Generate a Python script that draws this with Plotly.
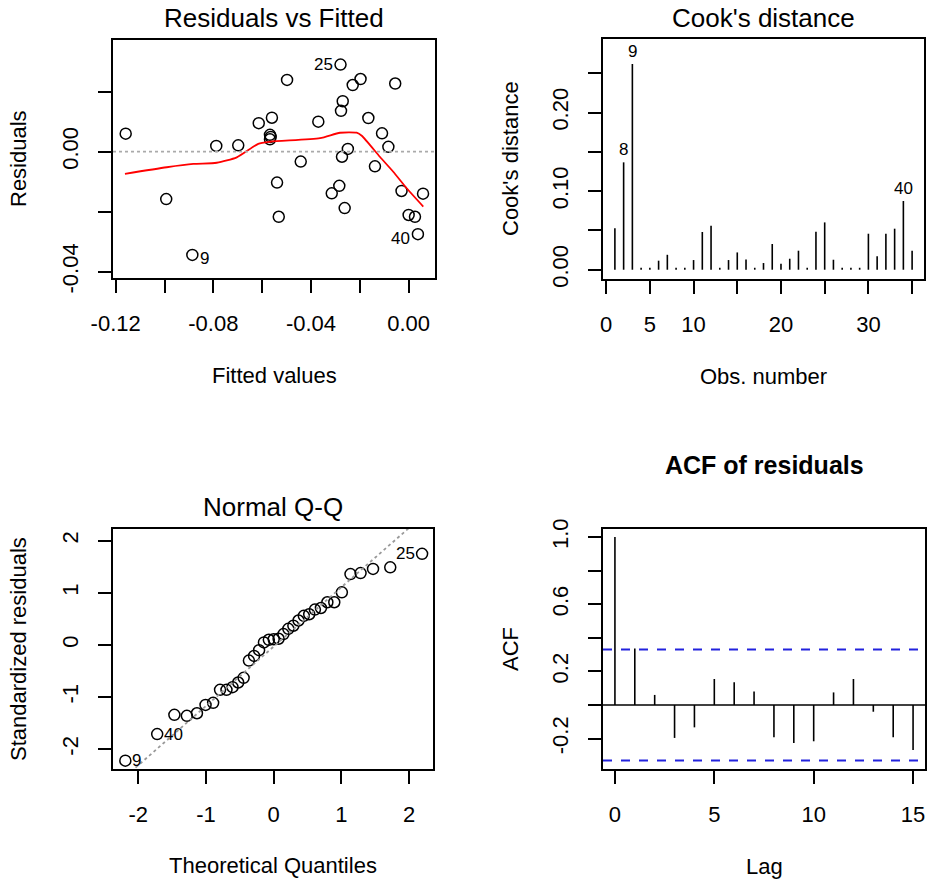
import plotly.graph_objects as go

W, H = 927, 879
FONT = "Arial, Liberation Sans, sans-serif"

# ---------------- Panel 1: Residuals vs Fitted ----------------
fitted = [-0.1159, -0.0993, -0.0886, -0.0788, -0.0698, -0.0614, -0.0560, -0.0568, -0.0568,
          -0.0565, -0.0539, -0.0532, -0.0498, -0.0442, -0.0370, -0.0315, -0.0284, -0.0279,
          -0.0270, -0.0277, -0.0273, -0.0249, -0.0262, -0.0229, -0.0197, -0.0165, -0.0138,
          -0.0109, -0.0083, -0.0055, -0.0029, 0.0000, 0.0026, 0.0038, 0.0059]
residuals = [0.0060, -0.0158, -0.0344, 0.0019, 0.0021, 0.0095, 0.0113, 0.0056, 0.0041,
             0.0049, -0.0103, -0.0217, 0.0239, -0.0033, 0.0100, -0.0139, -0.0114, 0.0290,
             0.0168, 0.0136, -0.0017, 0.0009, -0.0188, 0.0222, 0.0242, 0.0112, -0.0049,
             0.0061, 0.0016, 0.0227, -0.0131, -0.0211, -0.0217, -0.0275, -0.0140]
lowess_x = [-0.1162, -0.0991, -0.0882, -0.0786, -0.0704, -0.0616, -0.0568, -0.0363,
            -0.0281, -0.0213, -0.0192, -0.0118, -0.0063, -0.0008, 0.0060]
lowess_y = [-0.0074, -0.0052, -0.0041, -0.0037, -0.0019, 0.0026, 0.0033, 0.0045,
            0.0063, 0.0063, 0.0053, -0.0017, -0.0067, -0.0122, -0.0183]
rvf_label_idx = [2, 17, 33]
rvf_label_txt = ["9", "25", "40"]
rvf_xticks = [-0.12, -0.10, -0.08, -0.06, -0.04, -0.02, 0.00]
rvf_xtext = ["-0.12", "", "-0.08", "", "-0.04", "", "0.00"]
rvf_yticks = [-0.04, -0.02, 0.00, 0.02]
rvf_ytext = ["-0.04", "", "0.00", ""]

# ---------------- Panel 2: Cook's distance ----------------
obs_number = list(range(1, 36))
cooks_d = [0.0526, 0.1366, 0.2617, 0.0025, 0.0025, 0.0115, 0.0190, 0.0025, 0.0025,
           0.0123, 0.0480, 0.0560, 0.0025, 0.0123, 0.0220, 0.0131, 0.0025, 0.0085,
           0.0327, 0.0076, 0.0140, 0.0242, 0.0025, 0.0483, 0.0602, 0.0127, 0.0025,
           0.0025, 0.0025, 0.0458, 0.0170, 0.0458, 0.0522, 0.0874, 0.0242]
cook_label_idx = [1, 2, 33]
cook_label_txt = ["8", "9", "40"]
cook_xticks = [0, 5, 10, 15, 20, 25, 30, 35]
cook_xtext = ["0", "5", "10", "", "20", "", "30", ""]
cook_yticks = [0.00, 0.05, 0.10, 0.15, 0.20, 0.25]
cook_ytext = ["0.00", "", "0.10", "", "0.20", ""]

# ---------------- Panel 3: Normal Q-Q ----------------
theor_q = [-2.190, -1.720, -1.466, -1.282, -1.133, -1.006, -0.894, -0.792, -0.697,
           -0.608, -0.524, -0.444, -0.366, -0.290, -0.216, -0.144, -0.072, 0.000,
           0.072, 0.144, 0.216, 0.290, 0.366, 0.444, 0.524, 0.608, 0.697, 0.792,
           0.894, 1.006, 1.133, 1.282, 1.466, 1.720, 2.190]
std_resid = [-2.22, -1.71, -1.34, -1.36, -1.31, -1.15, -1.11, -0.86, -0.86, -0.81,
             -0.72, -0.63, -0.30, -0.21, -0.10, 0.05, 0.10, 0.11, 0.12, 0.21, 0.31,
             0.37, 0.47, 0.56, 0.59, 0.68, 0.71, 0.82, 0.82, 1.01, 1.36, 1.38, 1.46,
             1.49, 1.75]
qq_label_idx = [0, 1, 34]
qq_label_txt = ["9", "40", "25"]
qq_intercept = -0.03
qq_slope = 1.14
qq_ticks = [-2, -1, 0, 1, 2]
qq_ticktext = ["-2", "-1", "0", "1", "2"]

# ---------------- Panel 4: ACF of residuals ----------------
lags = list(range(0, 16))
acf_vals = [1.000, 0.337, 0.060, -0.196, -0.133, 0.155, 0.135, 0.081, -0.192,
            -0.226, -0.216, 0.075, 0.155, -0.040, -0.192, -0.268]
acf_ci = 0.331
acf_xticks = [0, 5, 10, 15]
acf_xtext = ["0", "5", "10", "15"]
acf_yticks = [-0.2, 0.0, 0.2, 0.4, 0.6, 0.8, 1.0]
acf_ytext = ["-0.2", "", "0.2", "", "0.6", "", "1.0"]

# ---------------- layout geometry (pixels) ----------------
boxes = {
    1: (113, 435, 40, 278),
    2: (603, 924, 39, 279),
    3: (113, 433, 529, 769),
    4: (603, 925, 529, 769),
}
ranges = {
    1: ([-0.1211, 0.0108], [-0.0421, 0.0372]),
    2: ([-0.36, 36.36], [-0.0118, 0.2935]),
    3: ([-2.372, 2.351], [-2.380, 2.226]),
    4: ([-0.6, 15.6], [-0.381, 1.048]),
}
ticks = {
    1: (rvf_xticks, rvf_xtext, rvf_yticks, rvf_ytext),
    2: (cook_xticks, cook_xtext, cook_yticks, cook_ytext),
    3: (qq_ticks, qq_ticktext, qq_ticks, qq_ticktext),
    4: (acf_xticks, acf_xtext, acf_yticks, acf_ytext),
}


def px(x):
    return x / W


def py(y):
    return 1 - y / H


fig = go.Figure()
layout = dict(width=W, height=H, autosize=False, margin=dict(l=0, r=0, t=0, b=0, pad=0, autoexpand=False),
              paper_bgcolor="white", plot_bgcolor="white", showlegend=False,
              font=dict(family=FONT, color="black", size=22))

for k in range(1, 5):
    l, r, t, b = boxes[k]
    xr, yr = ranges[k]
    xv, xt, yv, yt = ticks[k]
    sfx = "" if k == 1 else str(k)
    common = dict(showline=True, mirror=True, linecolor="black", linewidth=1.6,
                  ticks="outside", ticklen=13, tickwidth=1.6, tickcolor="black",
                  showgrid=False, zeroline=False, tickfont=dict(size=22, family=FONT),
                  fixedrange=True, automargin=False)
    layout["xaxis" + sfx] = dict(domain=[px(l), px(r)], range=xr, anchor="y" + sfx,
                                 tickvals=xv, ticktext=xt, ticklabelstandoff=12, **common)
    layout["yaxis" + sfx] = dict(domain=[py(b), py(t)], range=yr, anchor="x" + sfx,
                                 tickvals=yv, ticktext=yt, tickangle=-90,
                                 ticklabelstandoff=11, **common)

# Panel 1 traces
fig.add_trace(go.Scatter(x=fitted, y=residuals, mode="markers", xaxis="x", yaxis="y",
                         marker=dict(symbol="circle-open", size=11, color="black",
                                     line=dict(width=1.5, color="black"))))
fig.add_trace(go.Scatter(x=lowess_x, y=lowess_y, mode="lines", xaxis="x", yaxis="y",
                         line=dict(color="red", width=1.8, shape="spline", smoothing=0.6)))

# Panel 2 traces: vertical lines from 0
cx, cy = [], []
for o, d in zip(obs_number, cooks_d):
    cx += [o, o, None]
    cy += [0, d, None]
fig.add_trace(go.Scatter(x=cx, y=cy, mode="lines", xaxis="x2", yaxis="y2",
                         line=dict(color="black", width=1.6)))

# Panel 3 traces
fig.add_trace(go.Scatter(x=theor_q, y=std_resid, mode="markers", xaxis="x3", yaxis="y3",
                         marker=dict(symbol="circle-open", size=11, color="black",
                                     line=dict(width=1.5, color="black"))))
qx0, qx1 = ranges[3][0]
fig.add_trace(go.Scatter(x=[qx0, qx1],
                         y=[qq_intercept + qq_slope * qx0, qq_intercept + qq_slope * qx1],
                         mode="lines", xaxis="x3", yaxis="y3",
                         line=dict(color="#999999", width=1.8, dash="dot")))

# Panel 4 traces
ax, ay = [], []
for g, v in zip(lags, acf_vals):
    ax += [g, g, None]
    ay += [0, v, None]
fig.add_trace(go.Scatter(x=ax, y=ay, mode="lines", xaxis="x4", yaxis="y4",
                         line=dict(color="black", width=1.6)))

shapes = [
    dict(type="line", xref="x domain", yref="y", x0=0, x1=1, y0=0, y1=0,
         line=dict(color="#aaaaaa", width=1.6, dash="dot")),
    dict(type="line", xref="x4 domain", yref="y4", x0=0, x1=1, y0=0, y1=0,
         line=dict(color="black", width=1.6)),
    dict(type="line", xref="x4 domain", yref="y4", x0=0, x1=1, y0=acf_ci, y1=acf_ci,
         line=dict(color="#2222dd", width=2, dash="dash")),
    dict(type="line", xref="x4 domain", yref="y4", x0=0, x1=1, y0=-acf_ci, y1=-acf_ci,
         line=dict(color="#2222dd", width=2, dash="dash")),
]
layout["shapes"] = shapes

ann = []
# titles
titles = [(1, "Residuals vs Fitted", 18, False), (2, "Cook's distance", 18, False),
          (3, "Normal Q-Q", 507, False), (4, "ACF of residuals", 465, True)]
for k, txt, yy, bold in titles:
    l, r, t, b = boxes[k]
    ann.append(dict(xref="paper", yref="paper", x=px((l + r) / 2), y=py(yy), text=("<b>%s</b>" % txt) if bold else txt,
                    showarrow=False, xanchor="center", yanchor="middle",
                    font=dict(size=26 if not bold else 25, family=FONT, color="black")))
# axis titles
xtitles = [(1, "Fitted values", 375), (2, "Obs. number", 376), (3, "Theoretical Quantiles", 865), (4, "Lag", 866)]
for k, txt, yy in xtitles:
    l, r, t, b = boxes[k]
    ann.append(dict(xref="paper", yref="paper", x=px((l + r) / 2), y=py(yy), text=txt,
                    showarrow=False, xanchor="center", yanchor="middle",
                    font=dict(size=22, family=FONT, color="black")))
ytitles = [(1, "Residuals", 18), (2, "Cook's distance", 510), (3, "Standardized residuals", 18), (4, "ACF", 510)]
for k, txt, xx in ytitles:
    l, r, t, b = boxes[k]
    ann.append(dict(xref="paper", yref="paper", x=px(xx), y=py((t + b) / 2), text=txt,
                    showarrow=False, xanchor="center", yanchor="middle", textangle=-90,
                    font=dict(size=22, family=FONT, color="black")))

# point labels
lab_font = dict(size=17, family=FONT, color="black")
for i, t in zip(rvf_label_idx, rvf_label_txt):
    right = (t == "9")
    ann.append(dict(xref="x", yref="y", x=fitted[i], y=residuals[i], text=t, showarrow=False,
                    xanchor="left" if right else "right", xshift=6 if right else -6,
                    yshift=-4 if t != "25" else 0, font=lab_font))
for i, t in zip(cook_label_idx, cook_label_txt):
    ann.append(dict(xref="x2", yref="y2", x=obs_number[i], y=cooks_d[i], text=t, showarrow=False,
                    yanchor="bottom", yshift=1, font=lab_font))
for i, t in zip(qq_label_idx, qq_label_txt):
    right = (t != "25")
    ann.append(dict(xref="x3", yref="y3", x=theor_q[i], y=std_resid[i], text=t, showarrow=False,
                    xanchor="left" if right else "right", xshift=5 if right else -5,
                    font=lab_font))
layout["annotations"] = ann

fig.update_layout(**layout)
fig.write_html("out.html", config={"displayModeBar": False},
               post_script="document.body.style.margin='0';")
